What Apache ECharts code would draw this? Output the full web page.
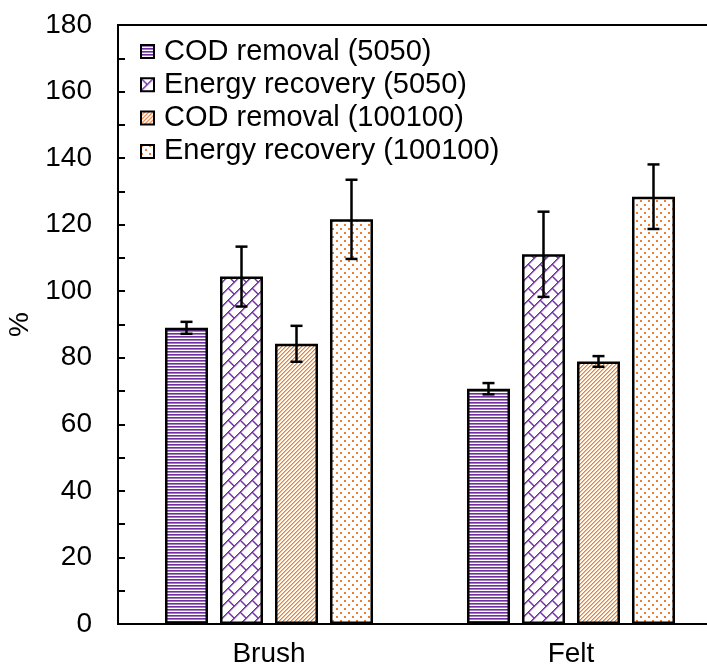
<!DOCTYPE html>
<html>
<head>
<meta charset="utf-8">
<script src="https://cdn.jsdelivr.net/npm/echarts@6/dist/echarts.min.js"></script>
<style>html,body{margin:0;padding:0;background:#fff;}#c{width:707px;height:670px;}</style>
</head>
<body>
<div id="c"></div>
<script>
var categories = ['Brush', 'Felt'];
var seriesNames = ['COD removal (5050)', 'Energy recovery (5050)', 'COD removal (100100)', 'Energy recovery (100100)'];
var codRemoval5050 = [89.0, 70.7];
var energyRecovery5050 = [104.4, 111.1];
var codRemoval100100 = [84.2, 78.9];
var energyRecovery100100 = [121.6, 128.4];
var err5050Cod = [1.8, 1.7];
var err5050Energy = [9.0, 12.8];
var err100100Cod = [5.4, 1.6];
var err100100Energy = [11.9, 9.7];
var yTicks = [0, 20, 40, 60, 80, 100, 120, 140, 160, 180];

var values = [codRemoval5050, energyRecovery5050, codRemoval100100, energyRecovery100100];
var errors = [err5050Cod, err5050Energy, err100100Cod, err100100Energy];

var PURPLE = '#7030A0', ORANGE = '#ED7D31';
function tile(w, h, draw) {
  var c = document.createElement('canvas'); c.width = w; c.height = h;
  var g = c.getContext('2d'); g.fillStyle = '#ffffff'; g.fillRect(0, 0, w, h);
  draw(g); return { image: c, repeat: 'repeat' };
}
var patterns = [
  tile(4, 3, function (g) {
    g.fillStyle = PURPLE; g.fillRect(0, 0, 4, 1);
    g.fillStyle = '#a27ec0'; g.fillRect(0, 1, 4, 1);
  }),
  tile(12, 12, function (g) {
    g.fillStyle = PURPLE;
    for (var i = 0; i < 12; i++) { g.fillRect(11 - i, i, 1.5, 1.5); }
    for (var j = 0; j < 6; j++) { g.fillRect(j, j, 1.5, 1.5); }
  }),
  tile(4, 4, function (g) {
    for (var i = 0; i < 4; i++) {
      g.fillStyle = ORANGE; g.fillRect(3 - i, i, 1, 1);
      g.fillStyle = '#f5b88c'; g.fillRect((4 - i) % 4, i, 1, 1);
    }
  }),
  tile(8, 8, function (g) {
    g.fillStyle = ORANGE; g.fillRect(0, 0, 2, 2); g.fillRect(4, 4, 2, 2);
  })
];

var FONT = 'Arial, "Liberation Sans", sans-serif';
var BAR_W = 43, STEP = 55;
var series = [];
seriesNames.forEach(function (name, s) {
  series.push({
    name: name, type: 'bar', data: values[s], barWidth: BAR_W, barGap: ((STEP - BAR_W) / BAR_W * 100).toFixed(1) + '%',
    itemStyle: { color: patterns[s], borderColor: '#000', borderWidth: 2.5 },
    emphasis: { disabled: true }, z: 2
  });
});
seriesNames.forEach(function (name, s) {
  var d = values[s].map(function (v, i) { return [i, v, errors[s][i]]; });
  series.push({
    type: 'custom', data: d, z: 5, silent: true,
    renderItem: function (params, api) {
      var ci = api.value(0), v = api.value(1), e = api.value(2);
      var top = api.coord([ci, v + e]), bot = api.coord([ci, v - e]);
      var x = top[0] + (s - 1.5) * STEP;
      var st = { stroke: '#000', lineWidth: 2.5 };
      return { type: 'group', children: [
        { type: 'line', shape: { x1: x, y1: top[1], x2: x, y2: bot[1] }, style: st },
        { type: 'line', shape: { x1: x - 6, y1: top[1], x2: x + 6, y2: top[1] }, style: st },
        { type: 'line', shape: { x1: x - 6, y1: bot[1], x2: x + 6, y2: bot[1] }, style: st }
      ] };
    }
  });
});

var chart = echarts.init(document.getElementById('c'), null, { renderer: 'canvas' });
chart.setOption({
  animation: false,
  backgroundColor: '#fff',
  grid: { left: 118, top: 25, width: 604, height: 599, outerBoundsMode: 'none', containLabel: false, show: true, borderColor: '#000', borderWidth: 2, backgroundColor: 'transparent' },
  legend: {
    data: seriesNames, orient: 'vertical', left: 140, top: 37, padding: 0,
    itemWidth: 13, itemHeight: 13, itemGap: 4.3, icon: 'rect',
    textStyle: { fontFamily: FONT, fontSize: 29, color: '#000', lineHeight: 29, padding: [0, 0, 0, 5] }
  },
  xAxis: {
    type: 'category', data: categories,
    axisLine: { lineStyle: { color: '#000', width: 2 } },
    axisTick: { show: false },
    axisLabel: { fontFamily: FONT, fontSize: 28, color: '#000', margin: 16 }
  },
  yAxis: {
    type: 'value', min: 0, max: 180, interval: 10,
    name: '%', nameLocation: 'middle', nameGap: 84, nameMoveOverlap: false,
    nameTextStyle: { fontFamily: FONT, fontSize: 28, color: '#000' },
    axisLine: { show: true, lineStyle: { color: '#000', width: 2 } },
    axisTick: { show: true, inside: true, length: 7, lineStyle: { color: '#000', width: 2 } },
    splitLine: { show: false },
    axisLabel: {
      fontFamily: FONT, fontSize: 28, color: '#000', margin: 26,
      formatter: function (v) { return yTicks.indexOf(v) >= 0 ? String(v) : ''; }
    }
  },
  series: series
});
</script>
</body>
</html>
